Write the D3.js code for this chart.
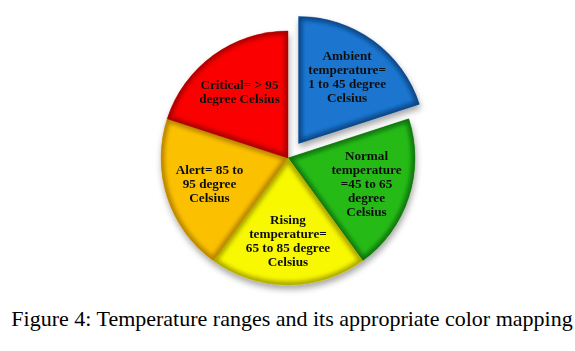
<!DOCTYPE html>
<html>
<head>
<meta charset="utf-8">
<script src="https://cdn.jsdelivr.net/npm/d3@7"></script>
<style>
  body { margin: 0; background: #fff; }
</style>
</head>
<body>
<div id="chart"></div>
<script>
// Podaci
const categories = ["Ambient", "Normal", "Rising", "Alert", "Critical"];
const values = [20, 20, 20, 20, 20];
const labels = [
    ["Ambient", "temperature=", "1 to 45 degree", "Celsius"],
    ["Normal", "temperature", "=45 to 65", "degree", "Celsius"],
    ["Rising", "temperature=", "65 to 85 degree", "Celsius"],
    ["Alert= 85 to", "95 degree", "Celsius"],
    ["Critical= > 95", "degree Celsius"]
];
const colors = ["#1b76d0", "#27ba18", "#f8f800", "#fbc100", "#fa0606"];
const edgeColors = ["#0b4583", "#117209", "#aaa600", "#b88400", "#a80000"];
const exploded = ["Ambient"];
const title = "Figure 4: Temperature ranges and its appropriate color mapping";

const width = 575, height = 351;
const cx = 288, cy = 158, radius = 127;

const svg = d3.select("#chart").append("svg")
    .attr("width", width)
    .attr("height", height);

const defs = svg.append("defs");

// sjena ispod grafikona
const shadow = defs.append("filter").attr("id", "shadow")
    .attr("x", "-20%").attr("y", "-20%").attr("width", "140%").attr("height", "140%");
shadow.append("feDropShadow")
    .attr("dx", 1).attr("dy", 4).attr("stdDeviation", 3)
    .attr("flood-color", "#000").attr("flood-opacity", 0.35);

const blur = defs.append("filter").attr("id", "blur");
blur.append("feGaussianBlur").attr("stdDeviation", 2);

const pie = d3.pie().sort(null).value(d => d);
const arcs = pie(values);

const arc = d3.arc().innerRadius(0).outerRadius(radius);
const labelArc = d3.arc().innerRadius(0).outerRadius(radius * 1.3);

arcs.forEach((d, i) => {
    defs.append("clipPath").attr("id", "clip" + i)
        .append("path").attr("d", arc(d));
});

const g = svg.append("g")
    .attr("transform", "translate(" + cx + "," + cy + ")")
    .attr("filter", "url(#shadow)");

const slices = g.selectAll(".slice")
    .data(arcs)
    .enter().append("g")
    .attr("class", "slice")
    .attr("transform", (d, i) => {
        if (exploded.indexOf(categories[i]) < 0) return null;
        const a = (d.startAngle + d.endAngle) / 2;
        return "translate(" + (18 * Math.sin(a)) + "," + (-18 * Math.cos(a)) + ")";
    });

slices.append("path")
    .attr("d", arc)
    .attr("fill", (d, i) => colors[i]);

// tamni rub (bevel)
slices.append("g")
    .attr("clip-path", (d, i) => "url(#clip" + i + ")")
    .append("path")
    .attr("d", arc)
    .attr("fill", "none")
    .attr("stroke", (d, i) => edgeColors[i])
    .attr("stroke-width", 7)
    .attr("filter", "url(#blur)");

slices.append("path")
    .attr("d", arc)
    .attr("fill", "none")
    .attr("stroke", (d, i) => edgeColors[i])
    .attr("stroke-opacity", 0.5)
    .attr("stroke-width", 0.8);

const lineH = 13.8;
slices.append("text")
    .attr("transform", d => "translate(" + labelArc.centroid(d) + ")")
    .attr("text-anchor", "middle")
    .style("font-family", "'Liberation Serif', 'Times New Roman', serif")
    .style("font-weight", "bold")
    .style("font-size", "13.2px")
    .attr("fill", "#111")
    .each(function (d, i) {
        const lines = labels[i];
        const t = d3.select(this);
        lines.forEach((l, k) => {
            t.append("tspan")
                .attr("x", 0)
                .attr("y", (k - (lines.length - 1) / 2) * lineH + 4.5)
                .text(l);
        });
    });

svg.append("text")
    .attr("x", 292)
    .attr("y", 326)
    .attr("text-anchor", "middle")
    .style("font-family", "'Liberation Serif', 'Times New Roman', serif")
    .style("font-size", "22px")
    .attr("fill", "#000")
    .text(title);
</script>
</body>
</html>
